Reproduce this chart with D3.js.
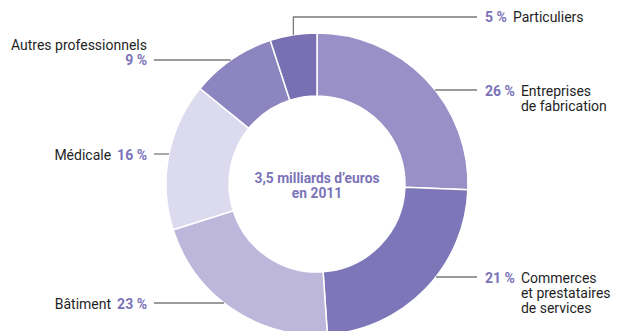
<!DOCTYPE html>
<html><head><meta charset="utf-8">
<script src="https://cdn.jsdelivr.net/npm/d3@7"></script>
<style>
html,body{margin:0;padding:0;background:#fff;}
svg{display:block;}
</style></head>
<body>
<svg id="chart" width="618" height="331"></svg>
<script>
// Data
const categories = ["Entreprises de fabrication", "Commerces et prestataires de services", "Bâtiment", "Médicale", "Autres professionnels", "Particuliers"];
const labelLines = [["Entreprises", "de fabrication"], ["Commerces", "et prestataires", "de services"], ["Bâtiment"], ["Médicale"], ["Autres professionnels"], ["Particuliers"]];
// slice sizes as drawn in the picture (arc angles)
const values = [25.6, 23.3, 21.2, 15.8, 9.1, 5.0];
const pctLabels = ["26 %", "21 %", "23 %", "16 %", "9 %", "5 %"];
const centerText = ["3,5 milliards d\u2019euros", "en 2011"];

// Style
const colors = ["#9890c6", "#7d76b8", "#bdb8db", "#dcdaee", "#8c85c0", "#7870b3"];
const pctColor = "#7b73b9";
const textColor = "#1f1f1f";
const lineColor = "#7a7a7a";
const font = "Roboto,'Liberation Sans',sans-serif";

// Layout
const cx = 317, cy = 184, R = 151, r0 = 88;
const labelLayout = [
  {side: "right", y: 90},
  {side: "right", y: 277},
  {side: "left",  y: 303, inline: true},
  {side: "left",  y: 154, inline: true},
  {side: "left",  y: 60},
  {side: "top",   y: 17}
];

const svg = d3.select("#chart");
const g = svg.append("g").attr("transform", `translate(${cx},${cy})`);

const pie = d3.pie().sort(null).value(d => d);
const arcs = pie(values);
const arc = d3.arc().innerRadius(r0).outerRadius(R);

g.selectAll("path.slice").data(arcs).join("path")
  .attr("class", "slice")
  .attr("d", arc)
  .attr("fill", (d, i) => colors[i])
  .attr("stroke", "#fff")
  .attr("stroke-width", 1.5);

// center text
g.append("text")
  .attr("text-anchor", "middle")
  .attr("font-family", font)
  .attr("font-weight", "bold")
  .attr("font-size", 13.8)
  .attr("fill", pctColor)
  .selectAll("tspan").data(centerText).join("tspan")
  .attr("x", 0)
  .attr("y", (d, i) => -1 + i * 15)
  .text(d => d);

// labels
const fs = 14, lh = 15;
arcs.forEach((a, i) => {
  const L = labelLayout[i];
  const dy = L.y - cy;
  if (L.side === "top") {
    const mid = (a.startAngle + a.endAngle) / 2;
    const x0 = cx + R * Math.sin(mid);
    const y0 = cy - R * Math.cos(mid);
    svg.append("path")
      .attr("d", `M${x0},${y0}V${L.y}H477`)
      .attr("fill", "none").attr("stroke", lineColor).attr("stroke-width", 1.3);
    const t = svg.append("text").attr("x", 485).attr("y", L.y + 5)
      .attr("font-family", font).attr("font-size", fs);
    t.append("tspan").attr("font-weight", "bold").attr("fill", pctColor).text(pctLabels[i]);
    t.append("tspan").attr("dx", 6).attr("fill", textColor).text(labelLines[i][0]);
  } else if (L.side === "right") {
    const x0 = cx + Math.sqrt(R * R - dy * dy);
    svg.append("line").attr("x1", x0).attr("x2", 477).attr("y1", L.y).attr("y2", L.y)
      .attr("stroke", lineColor).attr("stroke-width", 1.3);
    const pt = svg.append("text").attr("x", 485).attr("y", L.y + 6)
      .attr("font-family", font).attr("font-size", fs)
      .attr("font-weight", "bold").attr("fill", pctColor).text(pctLabels[i]);
    const w = pt.node().getComputedTextLength();
    svg.append("text").attr("font-family", font).attr("font-size", fs).attr("fill", textColor)
      .selectAll("tspan").data(labelLines[i]).join("tspan")
      .attr("x", 485 + w + 6)
      .attr("y", (d, j) => L.y + 6 + j * lh)
      .text(d => d);
  } else {
    const x0 = cx - Math.sqrt(R * R - dy * dy);
    svg.append("line").attr("x1", 154).attr("x2", x0).attr("y1", L.y).attr("y2", L.y)
      .attr("stroke", lineColor).attr("stroke-width", 1.3);
    if (L.inline) {
      const t = svg.append("text").attr("x", 147).attr("y", L.y + 6)
        .attr("text-anchor", "end").attr("font-family", font).attr("font-size", fs);
      t.append("tspan").attr("fill", textColor).text(labelLines[i][0]);
      t.append("tspan").attr("dx", 6).attr("font-weight", "bold").attr("fill", pctColor).text(pctLabels[i]);
    } else {
      svg.append("text").attr("x", 147).attr("y", L.y - 10)
        .attr("text-anchor", "end").attr("font-family", font).attr("font-size", fs)
        .attr("fill", textColor).text(labelLines[i][0]);
      svg.append("text").attr("x", 147).attr("y", L.y + 5)
        .attr("text-anchor", "end").attr("font-family", font).attr("font-size", fs)
        .attr("font-weight", "bold").attr("fill", pctColor).text(pctLabels[i]);
    }
  }
});
</script>
</body></html>
